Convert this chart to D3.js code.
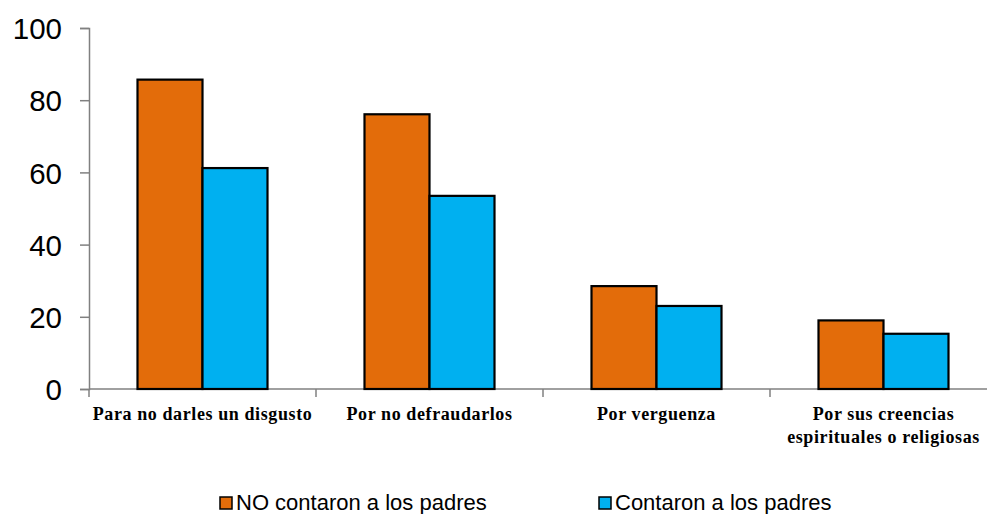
<!DOCTYPE html>
<html>
<head>
<meta charset="utf-8">
<script src="https://cdn.jsdelivr.net/npm/d3@7"></script>
<style>
  body { margin: 0; background: #fff; }
  svg { display: block; }
</style>
</head>
<body>
<svg class="canvas" width="987" height="514"></svg>
<script>
// chart data
const categories = [
  ["Para no darles un disgusto"],
  ["Por no defraudarlos"],
  ["Por verguenza"],
  ["Por sus creencias", "espirituales o religiosas"]
];
const seriesNames = ["NO contaron a los padres", "Contaron a los padres"];
const noContaron = [85.7, 76.1, 28.5, 19.0];
const contaron = [61.2, 53.5, 23.0, 15.3];
const yTicks = [0, 20, 40, 60, 80, 100];
const colors = ["#E36C0A", "#00B0F0"];

const svg = d3.select(".canvas");
const plotLeft = 89, plotRight = 997, plotTop = 28, plotBottom = 389;

// scales
const xScale = d3.scaleBand()
  .domain(d3.range(categories.length))
  .range([plotLeft, plotRight])
  .padding(0);
const yScale = d3.scaleLinear().domain([0, 100]).range([plotBottom, plotTop]);
const barW = 65;
const xSub = d3.scaleBand().domain([0, 1]).range([0, barW * 2]);

// y axis
const yAxis = d3.axisLeft(yScale).tickValues(yTicks).tickSize(9).tickPadding(18);
const gy = svg.append("g")
  .attr("transform", `translate(${plotLeft}, 0)`)
  .call(yAxis);
gy.select(".domain").attr("stroke", "#808080").attr("stroke-width", 1.5);
gy.selectAll(".tick line").attr("stroke", "#808080").attr("stroke-width", 1.5);
gy.selectAll(".tick text")
  .attr("font-family", "Liberation Sans, Arial, sans-serif")
  .attr("font-size", 29.5)
  .attr("fill", "#000")
  .attr("dy", "0.36em");

// x axis line and ticks at group boundaries
const gx = svg.append("g");
gx.append("line")
  .attr("x1", plotLeft).attr("x2", plotRight)
  .attr("y1", plotBottom).attr("y2", plotBottom)
  .attr("stroke", "#808080").attr("stroke-width", 1.5);
gx.selectAll(".xtick")
  .data(d3.range(categories.length + 1))
  .enter()
  .append("line")
  .attr("x1", (i) => plotLeft + i * xScale.bandwidth())
  .attr("x2", (i) => plotLeft + i * xScale.bandwidth())
  .attr("y1", plotBottom)
  .attr("y2", plotBottom + 8)
  .attr("stroke", "#808080").attr("stroke-width", 1.5);

// bars
const series = [noContaron, contaron];
const groups = svg.selectAll(".grp")
  .data(categories)
  .enter()
  .append("g")
  .attr("transform", (d, i) =>
    `translate(${xScale(i) + xScale.bandwidth() / 2 - barW}, 0)`);
series.forEach((vals, s) => {
  groups.append("rect")
    .attr("x", xSub(s))
    .attr("y", (d, i) => yScale(vals[i]))
    .attr("width", xSub.bandwidth())
    .attr("height", (d, i) => plotBottom - yScale(vals[i]))
    .attr("fill", colors[s])
    .attr("stroke", "#000")
    .attr("stroke-width", 2.2);
});

// category labels
groups.each(function (lines) {
  const t = d3.select(this).append("text")
    .attr("x", barW)
    .attr("text-anchor", "middle")
    .attr("font-family", "Liberation Serif, Times New Roman, serif")
    .attr("font-weight", "bold")
    .attr("font-size", 18)
    .attr("letter-spacing", 0.6);
  lines.forEach((ln, k) => {
    t.append("tspan").attr("x", barW).attr("y", 420 + k * 23).text(ln);
  });
});

// legend
const legendX = [220, 599];
const lg = svg.selectAll(".legend")
  .data(seriesNames)
  .enter()
  .append("g")
  .attr("transform", (d, i) => `translate(${legendX[i]}, 0)`);
lg.append("rect")
  .attr("x", 0).attr("y", 497)
  .attr("width", 12).attr("height", 12)
  .attr("fill", (d, i) => colors[i])
  .attr("stroke", "#000").attr("stroke-width", 1.5);
lg.append("text")
  .attr("x", 16).attr("y", 510)
  .attr("font-family", "Liberation Sans, Arial, sans-serif")
  .attr("font-size", 22)
  .text((d) => d);
</script>
</body>
</html>
